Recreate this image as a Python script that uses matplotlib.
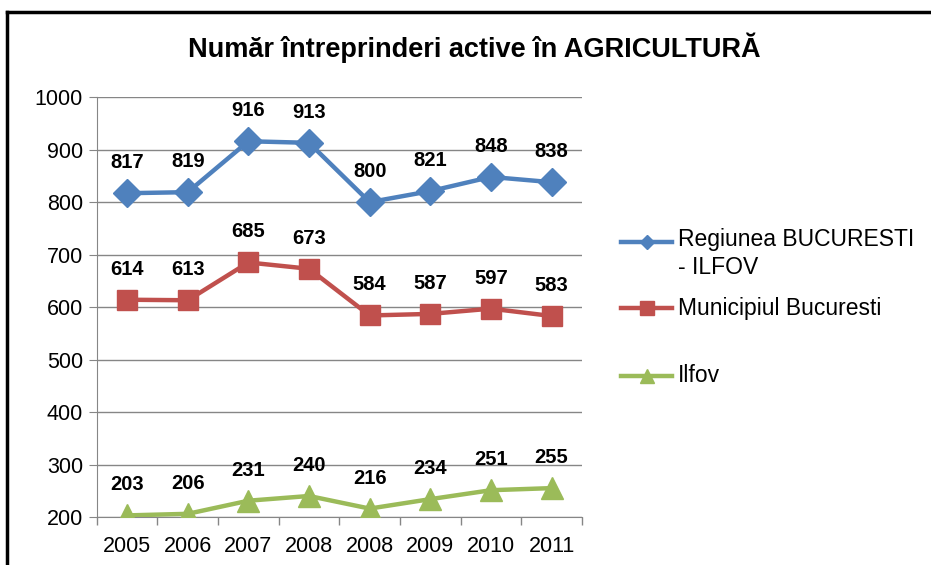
import matplotlib
matplotlib.use("Agg")
import matplotlib.pyplot as plt
import numpy as np
from matplotlib.lines import Line2D

plt.rcParams['font.family'] = ['Liberation Sans', 'DejaVu Sans']

# date
years = ['2005', '2006', '2007', '2008', '2008', '2009', '2010', '2011']
regiunea = [817, 819, 916, 913, 800, 821, 848, 838]
municipiul = [614, 613, 685, 673, 584, 587, 597, 583]
ilfov = [203, 206, 231, 240, 216, 234, 251, 255]

labels = ['Regiunea BUCURESTI\n- ILFOV', 'Municipiul Bucuresti', 'Ilfov']
colors = ['#4F81BD', '#C0504D', '#9BBB59']
markers = ['D', 's', '^']
msizes = [14, 14, 16]
leg_ms = [7, 10, 10]

fig = plt.figure(figsize=(9.31, 5.65), dpi=100)
ax = fig.add_axes([0.104, 0.085, 0.521, 0.743])

x = np.arange(len(years))
for vals, c, m, ms in zip([regiunea, municipiul, ilfov], colors, markers, msizes):
    ax.plot(x, vals, color=c, lw=3.2, marker=m, ms=ms, zorder=3)
    for xi, v in zip(x, vals):
        ax.annotate(str(v), (xi, v), xytext=(0, 21), textcoords='offset pixels',
                    ha='center', va='bottom', fontsize=14.5, fontweight='bold')

ax.set_xlim(-0.5, len(years) - 0.5)
ax.set_ylim(200, 1000)
ax.set_yticks(range(200, 1001, 100))
ax.set_xticks(x)
ax.set_xticklabels(years)
ax.set_xticks(np.arange(-0.5, len(years)), minor=True)
ax.tick_params(axis='x', which='major', length=0, pad=14, labelsize=15.5)
ax.tick_params(axis='x', which='minor', length=6, color='#868686', width=1)
ax.tick_params(axis='y', length=6, color='#868686', pad=4, labelsize=15.5)
ax.grid(axis='y', color='#868686', lw=1)
ax.set_axisbelow(True)
for s in ['top', 'right']:
    ax.spines[s].set_visible(False)
for s in ['left', 'bottom']:
    ax.spines[s].set_color('#868686')

fig.text(0.51, 0.915, 'Număr întreprinderi active în AGRICULTURĂ',
         ha='center', va='center', fontsize=19.5, fontweight='bold')

# legenda
leg_y = [1 - 242 / 565, 1 - 308 / 565, 1 - 376 / 565]
for lab, c, m, ms, ly in zip(labels, colors, markers, leg_ms, leg_y):
    fig.add_artist(Line2D([0.667, 0.722], [ly, ly], color=c, lw=3.2,
                          transform=fig.transFigure))
    fig.add_artist(Line2D([0.6945], [ly], color=c, marker=m, ms=ms,
                          transform=fig.transFigure))
    if '\n' in lab:
        fig.text(0.728, ly + 0.025, lab, ha='left', va='top', fontsize=16.5,
                 linespacing=1.3)
    else:
        fig.text(0.728, ly, lab, ha='left', va='center', fontsize=16.5)

# chenar
fig.add_artist(Line2D([7 / 931, 7 / 931], [0, 1 - 12 / 565], color='black', lw=2.5,
                      transform=fig.transFigure))
fig.add_artist(Line2D([7 / 931, 1], [1 - 12 / 565, 1 - 12 / 565], color='black', lw=2.5,
                      transform=fig.transFigure))

fig.savefig('out.png', dpi=100)
